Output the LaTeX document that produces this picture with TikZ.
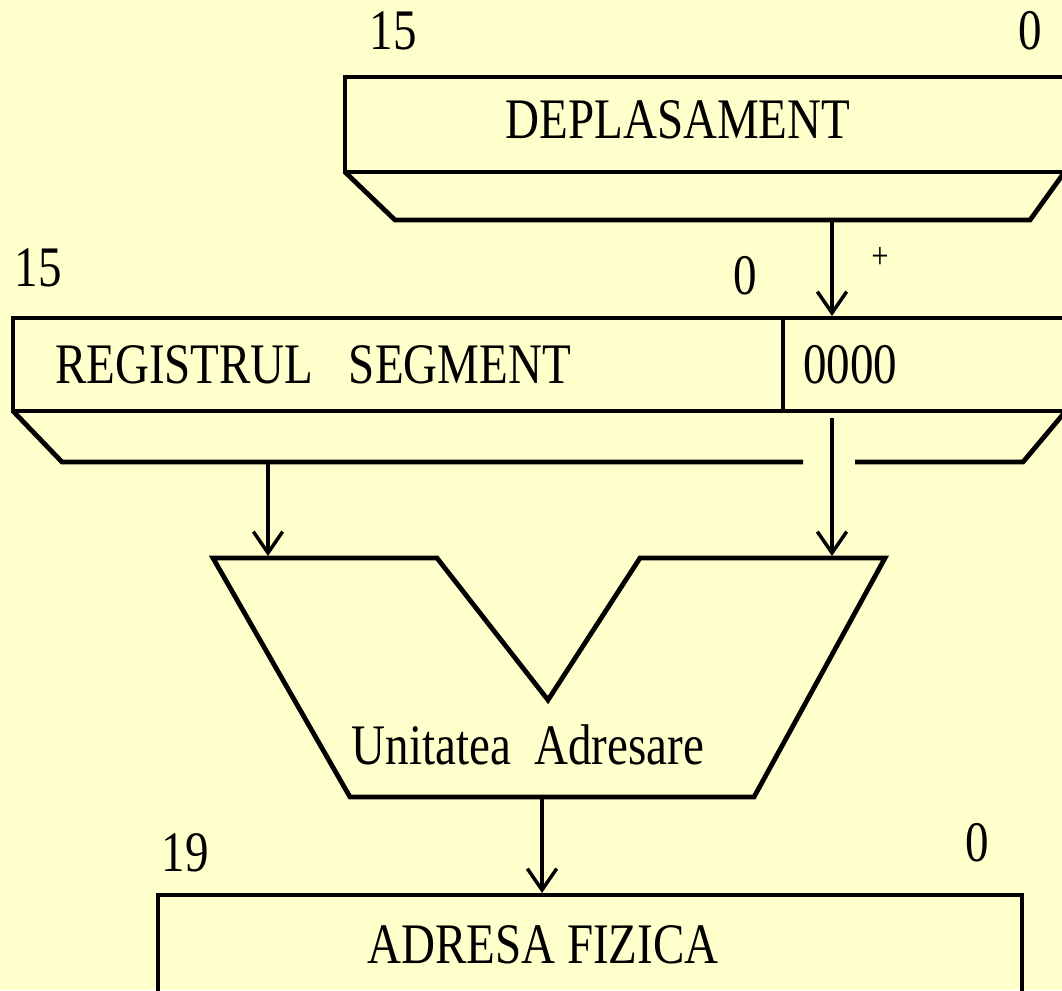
\documentclass[tikz,border=0pt]{standalone}
\usepackage{fontspec}
\setmainfont{Liberation Serif}
\newfontfamily\tms[FakeStretch=0.82]{Liberation Serif}
\usetikzlibrary{arrows.meta}
\definecolor{bg}{HTML}{FFFFCC}
\begin{document}
\begin{tikzpicture}[x=0.75pt,y=-0.75pt,
  outline/.style={line width=3.6pt, line join=miter},
  thin/.style={line width=2.4pt},
  lbl/.style={font=\tms\fontsize{43}{50}\selectfont, inner sep=0pt},
  small/.style={font=\tms\fontsize{28}{32}\selectfont, inner sep=0pt},
  arr/.style={line width=2.6pt, -{Straight Barb[length=16pt,width=22pt,line width=2.6pt]}}]
\useasboundingbox (0,0) rectangle (1062,990);
\fill[bg] (0,0) rectangle (1062,990);

% DEPLASAMENT register
\draw[outline] (1075,77) -- (345,77) -- (345,172) -- (1075,172);
\draw[outline] (345,172) -- (395,220) -- (1030,220) -- (1066,170);

% segment register
\draw[outline] (1075,318) -- (13,318) -- (13,411) -- (1075,411);
\draw[thin] (783,318) -- (783,411);
\draw[outline] (13,411) -- (62,462) -- (803,462);
\draw[outline] (855,462) -- (1023,462) -- (1065,412);

% addressing unit
\draw[outline] (213,558) -- (437,558) -- (548,700) -- (640,558) -- (885,558) -- (754,797) -- (350,797) -- cycle;

% physical address
\draw[outline] (158,1005) -- (158,895) -- (1022,895) -- (1022,1005);

% labels
\node[lbl] (n15a) at (393,31) {15};
\node[lbl] (n0a) at (1030,31) {0};
\node[lbl] (dep) at (678,120) {DEPLASAMENT};
\node[lbl] (n15b) at (38,268) {15};
\node[lbl] (n0b) at (745,276) {0};
\node[small] (plus) at (880,258) {+};
\node[lbl] (reg) at (313,365) {REGISTRUL\ \ \ SEGMENT};
\node[lbl] (zero) at (850,365) {0000};
\node[lbl] (ua) at (528,745) {Unitatea\ \ Adresare};
\node[lbl] (n19) at (185,853) {19};
\node[lbl] (n0c) at (977,843) {0};
\node[lbl] (af) at (543,945) {ADRESA FIZICA};

% connector end points
\coordinate (depout) at (832,222);
\coordinate (regin) at (832,316);
\coordinate (segoutL) at (268,464);
\coordinate (segoutR) at (832,418);
\coordinate (uaL) at (268,556);
\coordinate (uaR) at (832,556);
\coordinate (uaout) at (542,799);
\coordinate (afin) at (542,893);

\draw[arr] (depout) -- (regin);
\draw[arr] (segoutL) -- (uaL);
\draw[arr] (segoutR) -- (uaR);
\draw[arr] (uaout) -- (afin);
\end{tikzpicture}
\end{document}
